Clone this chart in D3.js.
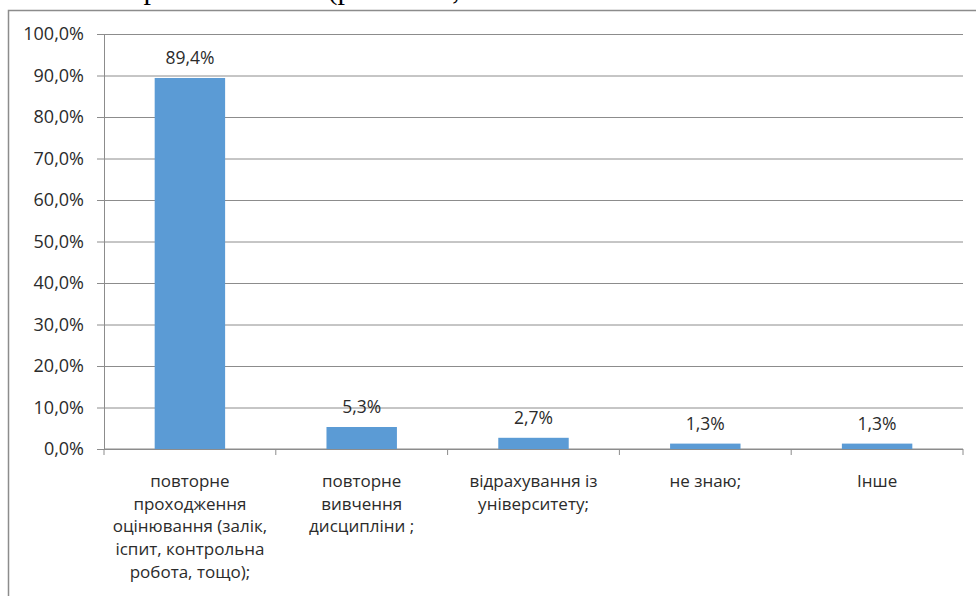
<!DOCTYPE html>
<html lang="uk">
<head>
<meta charset="UTF-8">
<title>Bar chart</title>
<script src="https://d3js.org/d3.v7.min.js"></script>
<style>
  body { margin: 0; background: #fff; }
  svg text { font-family: "Open Sans", sans-serif; fill: #2b2b2b; }
</style>
</head>
<body>
<div id="chart"></div>
<script>
// data
var categories = [
  ["повторне", "проходження", "оцінювання (залік,", "іспит, контрольна", "робота, тощо);"],
  ["повторне", "вивчення", "дисципліни ;"],
  ["відрахування із", "університету;"],
  ["не знаю;"],
  ["Інше"]
];
var values = [89.4, 5.3, 2.7, 1.3, 1.3];
var yTicks = [0, 10, 20, 30, 40, 50, 60, 70, 80, 90, 100];

var width = 976, height = 596;
var margin = { top: 34, right: 13, bottom: 147, left: 104 };

var svg = d3.select("#chart").append("svg")
  .attr("width", width)
  .attr("height", height);

// fragments of the caption line cut off above the chart
var capFont = "'Liberation Serif', serif";
[["р", 151], ["(р", 340], [",", 456]].forEach(function (c) {
  svg.append("text")
    .attr("x", c[1]).attr("y", -1)
    .attr("text-anchor", "middle")
    .style("font-family", capFont)
    .style("font-size", "30px")
    .style("fill", "#000")
    .text(c[0]);
});

// chart frame
svg.append("path")
  .attr("d", "M8.5," + height + "V10.5H" + width)
  .attr("fill", "none")
  .attr("stroke", "#8c8c8c")
  .attr("stroke-width", 1.5);

var x = d3.scaleBand()
  .domain(d3.range(categories.length))
  .range([margin.left, width - margin.right])
  .paddingInner(0.59)
  .paddingOuter(0.295);

var y = d3.scaleLinear()
  .domain([0, 100])
  .range([height - margin.bottom, margin.top]);

var fmt = function (v) { return d3.format(".1f")(v).replace(".", ",") + "%"; };

// grid + y axis labels
var yAxis = d3.axisLeft(y)
  .tickValues(yTicks)
  .tickSize(-(width - margin.right - margin.left))
  .tickSizeOuter(0)
  .tickPadding(20)
  .tickFormat(fmt);

var gy = svg.append("g")
  .attr("transform", "translate(" + margin.left + ",0)")
  .call(yAxis);
gy.select(".domain").attr("stroke", "#8c8c8c").attr("d", "M0.5," + y(100) + "V" + y(0));
gy.selectAll(".tick line")
  .attr("stroke", "#8c8c8c")
  .attr("x1", -7);
gy.selectAll(".tick text")
  .style("font-size", "18px")
  .attr("fill", "#2b2b2b");

// category boundary ticks
var step = x.step();
var bounds = d3.range(categories.length + 1).map(function (i) { return margin.left + i * step; });
svg.append("g").selectAll("line")
  .data(bounds)
  .join("line")
  .attr("x1", function (d) { return d; })
  .attr("x2", function (d) { return d; })
  .attr("y1", y(0))
  .attr("y2", y(0) + 6)
  .attr("stroke", "#8c8c8c");

svg.append("line")
  .attr("x1", margin.left).attr("x2", width - margin.right)
  .attr("y1", y(0)).attr("y2", y(0))
  .attr("stroke", "#8c8c8c");

// bars
svg.append("g").selectAll("rect")
  .data(values)
  .join("rect")
  .attr("x", function (d, i) { return x(i); })
  .attr("y", function (d) { return y(d); })
  .attr("width", x.bandwidth())
  .attr("height", function (d) { return y(0) - y(d); })
  .attr("fill", "#5b9bd5");

// value labels
svg.append("g").selectAll("text")
  .data(values)
  .join("text")
  .attr("x", function (d, i) { return x(i) + x.bandwidth() / 2; })
  .attr("y", function (d) { return y(d) - 14; })
  .attr("text-anchor", "middle")
  .style("font-size", "17.5px")
  .text(fmt);

// category labels
var cat = svg.append("g").selectAll("text")
  .data(categories)
  .join("text")
  .attr("text-anchor", "middle")
  .style("font-size", "17px");
cat.each(function (lines, i) {
  var t = d3.select(this);
  lines.forEach(function (ln, j) {
    t.append("tspan")
      .attr("x", x(i) + x.bandwidth() / 2)
      .attr("y", y(0) + 38 + j * 22.7)
      .text(ln);
  });
});
</script>
</body>
</html>
